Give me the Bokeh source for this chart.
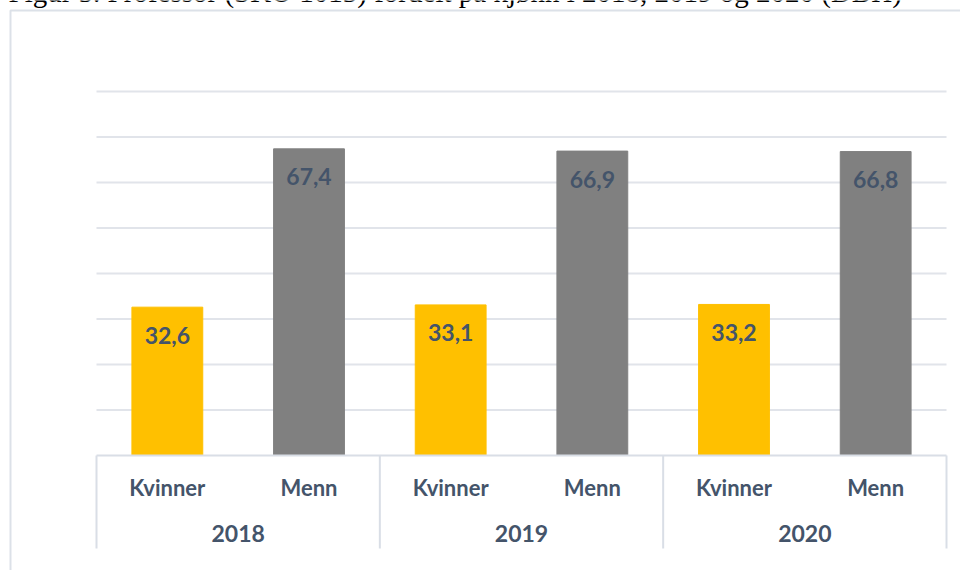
from bokeh.plotting import figure
from bokeh.models import Range1d
from bokeh.core.properties import value
from bokeh.embed import file_html
from bokeh.resources import INLINE

# ---- data ----
title = "Figur 5. Professor (SKO 1013) fordelt på kjønn i 2018, 2019 og 2020 (DBH)"
years = ["2018", "2019", "2020"]
genders = ["Kvinner", "Menn"]
kvinner = [32.6, 33.1, 33.2]
menn = [67.4, 66.9, 66.8]
grid_ticks = [10, 20, 30, 40, 50, 60, 70, 80]
bar_colors = ["#FFC000", "#808080"]

# ---- layout ----
W, H = 960, 570
plot_left, plot_right = 96, 946
baseline_px = 455
axis_bottom_px = 548
n_cat = len(years) * len(genders)
ux = (plot_right - plot_left) / n_cat   # px per category
vy = 4.55                                # px per percent unit

TEXT = "#44546A"
FONT = value("Lato")

p = figure(width=W, height=H, output_backend="svg", toolbar_location=None,
           x_axis_type=None, y_axis_type=None,
           x_range=Range1d(-plot_left / ux, (W - plot_left) / ux),
           y_range=Range1d(-(H - baseline_px) / vy, baseline_px / vy),
           min_border=0, min_border_left=0, min_border_right=0,
           min_border_top=0, min_border_bottom=0,
           outline_line_color=None, background_fill_color="white",
           border_fill_color="white")
p.grid.visible = False
p.extra_x_ranges = {"px": Range1d(0, W)}
p.extra_y_ranges = {"px": Range1d(H, 0)}

# outer frame and (cropped) title
p.line(x=[10, 10, W + 5], y=[H + 5, 10, 10], x_range_name="px", y_range_name="px",
       line_color="#DCE1E8", line_width=2)
p.text(x=[8], y=[-9], text=[title], x_range_name="px", y_range_name="px",
       text_font=value("Liberation Serif"), text_font_size="29px",
       text_baseline="alphabetic", text_align="left", text_color="#000000")

# gridlines
p.segment(x0=[0] * len(grid_ticks), x1=[n_cat] * len(grid_ticks),
          y0=grid_ticks, y1=grid_ticks, line_color="#E1E4EA", line_width=2)

# bars
xs, tops, cols, labels, cat_labels = [], [], [], [], []
for gi, y in enumerate(years):
    for ji, g in enumerate(genders):
        v = (kvinner if g == "Kvinner" else menn)[gi]
        xs.append(gi * len(genders) + ji + 0.5)
        tops.append(v)
        cols.append(bar_colors[ji])
        labels.append(f"{v:.1f}".replace(".", ","))
        cat_labels.append(g)

p.vbar(x=xs, top=tops, bottom=0, width=0.5, fill_color=cols, line_color=cols)

p.text(x=xs, y=tops, text=labels, y_offset=28, text_align="center",
       text_baseline="middle", text_font=FONT, text_font_style="bold",
       text_font_size="23px", text_color=TEXT)

# category axis box
bounds = [gi * len(genders) for gi in range(len(years) + 1)]
p.segment(x0=[0], x1=[n_cat], y0=[0], y1=[0], line_color="#D9DEE6", line_width=2)
p.segment(x0=bounds, x1=bounds, y0=[baseline_px] * len(bounds),
          y1=[axis_bottom_px] * len(bounds), y_range_name="px",
          line_color="#D9DEE6", line_width=2)

p.text(x=xs, y=[0] * len(xs), text=cat_labels, y_offset=32, text_align="center",
       text_baseline="middle", text_font=FONT, text_font_style="bold",
       text_font_size="22px", text_color=TEXT)
p.text(x=[gi * len(genders) + len(genders) / 2 for gi in range(len(years))],
       y=[0] * len(years), text=years, y_offset=78, text_align="center",
       text_baseline="middle", text_font=FONT, text_font_style="bold",
       text_font_size="23px", text_color=TEXT)

open("out.html", "w").write(file_html(p, INLINE))
